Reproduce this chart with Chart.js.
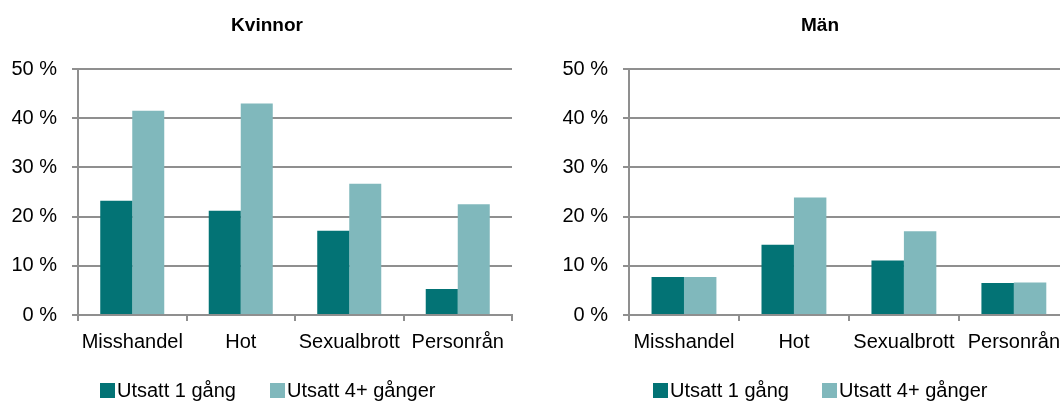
<!DOCTYPE html>
<html><head><meta charset="utf-8">
<script src="https://cdn.jsdelivr.net/npm/chart.js@4.4.0/dist/chart.umd.min.js"></script>
<style>
html,body{margin:0;padding:0;width:1060px;height:401px;overflow:hidden;background:#fff;font-family:"Liberation Sans",Arial,sans-serif;}
#wrap{position:relative;width:1060px;height:401px;overflow:hidden;}
.box{position:absolute;top:0;height:401px;}
.title{position:absolute;font-weight:bold;font-size:19px;line-height:19px;transform:translateX(-50%);white-space:nowrap;color:#000;}
.leg{position:absolute;font-size:20px;line-height:20px;white-space:nowrap;color:#000;}
.sw{position:absolute;width:15px;height:15px;}
</style></head><body>
<div id="wrap">
<div class="box" style="left:0;width:534px"><canvas id="c1" width="534" height="401"></canvas></div>
<div class="box" style="left:551px;width:518px"><canvas id="c2" width="518" height="401"></canvas></div>
<div class="title" style="left:267px;top:15px">Kvinnor</div>
<div class="title" style="left:820px;top:15px">Män</div>
</div>
<script>
const categories = ['Misshandel', 'Hot', 'Sexualbrott', 'Personrån'];
const seriesNames = ['Utsatt 1 gång', 'Utsatt 4+ gånger'];
const kvinnorOnce = [23.2, 21.2, 17.1, 5.3];
const kvinnorFour = [41.5, 43.0, 26.7, 22.5];
const manOnce = [7.7, 14.3, 11.1, 6.5];
const manFour = [7.7, 23.9, 17.0, 6.6];
const yTickValues = [0, 10, 20, 30, 40, 50];

const colors = ['#037375', '#80b8bc'];
const gridColor = '#8f8f8f';

function makeChart(id, once, four, padRight) {
  return new Chart(document.getElementById(id), {
    type: 'bar',
    data: {
      labels: categories,
      datasets: [
        { label: seriesNames[0], data: once, backgroundColor: colors[0], borderWidth: 0 },
        { label: seriesNames[1], data: four, backgroundColor: colors[1], borderWidth: 0 }
      ]
    },
    options: {
      responsive: false,
      animation: false,
      events: [],
      layout: { padding: { left: 0, right: padRight, top: 69, bottom: 41 } },
      datasets: { bar: { categoryPercentage: 0.59, barPercentage: 1.0 } },
      plugins: { legend: { display: false }, title: { display: false }, tooltip: { enabled: false } },
      scales: {
        x: {
          grid: { display: true, drawOnChartArea: false, drawTicks: true, tickLength: 6, color: gridColor, lineWidth: 2, offset: true },
          border: { display: true, color: gridColor, width: 2 },
          ticks: { color: '#000', padding: 9, font: { family: '"Liberation Sans", Arial, sans-serif', size: 20 }, maxRotation: 0, autoSkip: false },
          afterFit: (s) => { s.height = 45; }
        },
        y: {
          min: yTickValues[0], max: yTickValues[yTickValues.length - 1],
          afterBuildTicks: (s) => { s.ticks = yTickValues.map(v => ({ value: v })); },
          grid: { color: gridColor, lineWidth: 2, tickLength: 6, drawTicks: true },
          border: { display: true, color: gridColor, width: 2 },
          ticks: { color: '#000', padding: 15, font: { family: '"Liberation Sans", Arial, sans-serif', size: 20 }, callback: (v) => v + ' %' },
          afterFit: (s) => { s.width = 78; }
        }
      }
    }
  });
}

makeChart('c1', kvinnorOnce, kvinnorFour, 22);
makeChart('c2', manOnce, manFour, 0);

// legends (HTML, built from the series names and colours)
const wrap = document.getElementById('wrap');
const legendStarts = [[100, 270], [653, 822]];
legendStarts.forEach(starts => {
  starts.forEach((x, i) => {
    const sw = document.createElement('div');
    sw.className = 'sw';
    sw.style.left = x + 'px'; sw.style.top = '383px'; sw.style.background = colors[i];
    wrap.appendChild(sw);
    const t = document.createElement('div');
    t.className = 'leg';
    t.style.left = (x + 17) + 'px'; t.style.top = '380px';
    t.textContent = seriesNames[i];
    wrap.appendChild(t);
  });
});
</script>
</body></html>
